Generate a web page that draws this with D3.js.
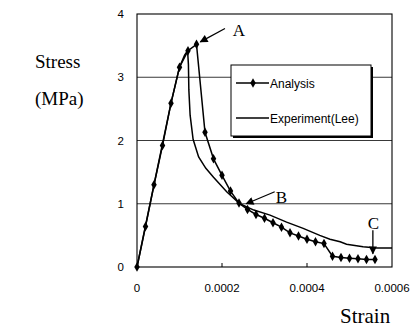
<!DOCTYPE html>
<html>
<head>
<meta charset="utf-8">
<script src="https://cdn.jsdelivr.net/npm/d3@7.9.0/dist/d3.min.js"></script>
<style>
  body { margin: 0; background: #fff; }
  text { fill: #000; }
</style>
</head>
<body>
<svg id="chart" width="415" height="329"></svg>
<script>
// analysis (FEM) curve, marker every 0.00002 strain
const analysisStrain = [0, 0.00002, 0.00004, 0.00006, 0.00008, 0.0001, 0.00012, 0.00014,
  0.00016, 0.00018, 0.0002, 0.00022, 0.00024, 0.00026, 0.00028, 0.0003, 0.00032, 0.00034,
  0.00036, 0.00038, 0.0004, 0.00042, 0.00044, 0.00046, 0.00048, 0.0005, 0.00052, 0.00054, 0.00056];
const analysisStress = [0, 0.64, 1.30, 1.92, 2.59, 3.16, 3.42, 3.52,
  2.13, 1.71, 1.45, 1.20, 1.01, 0.91, 0.83, 0.77, 0.70, 0.63,
  0.54, 0.49, 0.44, 0.40, 0.37, 0.17, 0.15, 0.14, 0.13, 0.12, 0.12];

// experiment (Lee) curve
const experimentStrain = [0, 0.00004, 0.00008, 0.0001, 0.000112, 0.000119, 0.000121, 0.000122,
  0.000125, 0.000132, 0.000145, 0.000162, 0.00018, 0.000211, 0.000242, 0.000275, 0.000313,
  0.000352, 0.000391, 0.00043, 0.000454, 0.000478, 0.000493, 0.000532, 0.000564, 0.0006];
const experimentStress = [0, 1.30, 2.59, 3.16, 3.35, 3.42, 3.2, 2.8,
  2.4, 2.02, 1.74, 1.56, 1.42, 1.19, 1.00, 0.90, 0.82,
  0.71, 0.61, 0.50, 0.44, 0.40, 0.36, 0.32, 0.30, 0.30];

const xTicks = [0, 0.0002, 0.0004, 0.0006];
const xTickLabels = ['0', '0.0002', '0.0004', '0.0006'];
const yTicks = [0, 1, 2, 3, 4];
const legendLabels = ['Analysis', 'Experiment(Lee)'];

// callouts: label, text position, arrow tail, arrow tip (data units)
const callouts = [
  { label: 'A', text: [0.000240, 3.74], tail: [0.000207, 3.77], tip: [0.000149, 3.56] },
  { label: 'B', text: [0.000340, 1.11], tail: [0.000324, 1.19], tip: [0.000257, 1.00] },
  { label: 'C', text: [0.000556, 0.70], tail: [0.000555, 0.58], tip: [0.000555, 0.21] }
];

const svg = d3.select('#chart');
const x = d3.scaleLinear().domain([0, 0.0006]).range([137, 392]);
const y = d3.scaleLinear().domain([0, 4]).range([267, 14]);

svg.append('defs').append('marker')
  .attr('id', 'head')
  .attr('viewBox', '0 0 10 10')
  .attr('refX', 9).attr('refY', 5)
  .attr('markerWidth', 10).attr('markerHeight', 8)
  .attr('markerUnits', 'userSpaceOnUse')
  .attr('orient', 'auto')
  .append('path').attr('d', 'M0,0 L10,5 L0,10 Z').attr('fill', '#000');

// grid lines
svg.append('g').selectAll('line')
  .data([1, 2, 3])
  .join('line')
  .attr('x1', x(0)).attr('x2', x(0.0006))
  .attr('y1', d => y(d)).attr('y2', d => y(d))
  .attr('stroke', '#222').attr('stroke-width', 0.9);

// frame
svg.append('rect')
  .attr('x', x(0)).attr('y', y(4))
  .attr('width', x(0.0006) - x(0)).attr('height', y(0) - y(4))
  .attr('fill', 'none').attr('stroke', '#000').attr('stroke-width', 1.1);

// x ticks pointing inward
svg.append('g').selectAll('line')
  .data(xTicks.slice(1, -1))
  .join('line')
  .attr('x1', d => x(d)).attr('x2', d => x(d))
  .attr('y1', y(0)).attr('y2', y(0) - 4)
  .attr('stroke', '#000');

svg.append('g').selectAll('text')
  .data(xTicks)
  .join('text')
  .attr('x', d => x(d)).attr('y', 292)
  .attr('text-anchor', 'middle')
  .style('font', '11.5px "Liberation Sans", Arial, sans-serif')
  .text((d, i) => xTickLabels[i]);

svg.append('g').selectAll('text')
  .data(yTicks)
  .join('text')
  .attr('x', 124).attr('y', d => y(d) + 4)
  .attr('text-anchor', 'end')
  .style('font', '11.5px "Liberation Sans", Arial, sans-serif')
  .text(d => d);

// axis titles
svg.append('text').attr('x', 35).attr('y', 68)
  .style('font', '19px "Liberation Serif", "Times New Roman", serif').text('Stress');
svg.append('text').attr('x', 35).attr('y', 105)
  .style('font', '19px "Liberation Serif", "Times New Roman", serif').text('(MPa)');
svg.append('text').attr('x', 340).attr('y', 323)
  .style('font', '21px "Liberation Serif", "Times New Roman", serif').text('Strain');

// curves
const line = d3.line().x(d => x(d[0])).y(d => y(d[1]));
const expPts = experimentStrain.map((s, i) => [s, experimentStress[i]]);
const anaPts = analysisStrain.map((s, i) => [s, analysisStress[i]]);

svg.append('path')
  .attr('d', line(expPts))
  .attr('fill', 'none').attr('stroke', '#000').attr('stroke-width', 1.5);

svg.append('path')
  .attr('d', line(anaPts))
  .attr('fill', 'none').attr('stroke', '#000').attr('stroke-width', 1.5);

const diamond = d3.symbol().type(d3.symbolDiamond).size(26);
svg.append('g').selectAll('path')
  .data(anaPts)
  .join('path')
  .attr('transform', d => `translate(${x(d[0])},${y(d[1])})`)
  .attr('d', diamond)
  .attr('fill', '#000');

// legend
const lg = svg.append('g');
lg.append('rect').attr('x', 233).attr('y', 67).attr('width', 140).attr('height', 71).attr('fill', '#000');
lg.append('rect').attr('x', 231).attr('y', 65).attr('width', 140).attr('height', 71)
  .attr('fill', '#fff').attr('stroke', '#000').attr('stroke-width', 1);
legendLabels.forEach((lab, i) => {
  const ly = 83 + i * 35;
  lg.append('line').attr('x1', 236).attr('x2', 269).attr('y1', ly).attr('y2', ly)
    .attr('stroke', '#000').attr('stroke-width', 1.5);
  if (i === 0) {
    lg.append('path').attr('transform', `translate(253,${ly})`).attr('d', diamond).attr('fill', '#000');
  }
  lg.append('text').attr('x', 270).attr('y', ly + 4.5)
    .style('font', '12px "Liberation Sans", Arial, sans-serif')
    .text(lab);
});

// callouts
callouts.forEach(c => {
  svg.append('line')
    .attr('x1', x(c.tail[0])).attr('y1', y(c.tail[1]))
    .attr('x2', x(c.tip[0])).attr('y2', y(c.tip[1]))
    .attr('stroke', '#000').attr('stroke-width', 1.3)
    .attr('marker-end', 'url(#head)');
  svg.append('text')
    .attr('x', x(c.text[0])).attr('y', y(c.text[1]) + 6)
    .attr('text-anchor', 'middle')
    .style('font', '17px "Liberation Serif", "Times New Roman", serif')
    .text(c.label);
});
</script>
</body>
</html>
